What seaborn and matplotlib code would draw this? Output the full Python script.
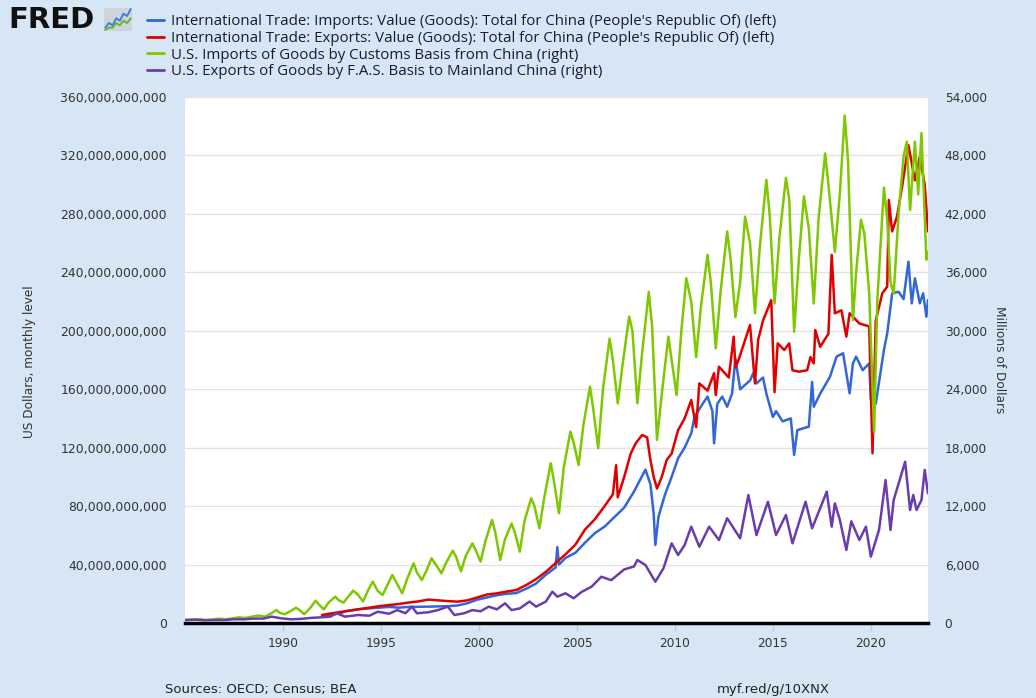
#FRED chart: comercio EUA-China (importacoes/exportacoes)
import numpy as np
import pandas as pd
import matplotlib
matplotlib.use("Agg")
import matplotlib.pyplot as plt
from matplotlib.lines import Line2D
from matplotlib.ticker import FuncFormatter
import seaborn as sns

#DADOS

#China imports total (bilhoes USD, eixo esquerdo)
blue_dates = [
    "1992-01", "1992-12", "1993-03", "1993-12", "1994-12", "1995-06", "1995-12",
    "1996-06", "1997-06", "1998-06", "1998-12", "1999-06", "1999-12",
    "2000-06", "2000-12", "2001-06", "2001-12", "2002-06", "2002-12",
    "2003-06", "2003-12", "2004-01", "2004-02", "2004-06", "2004-12",
    "2005-06", "2005-12", "2006-06", "2006-12", "2007-06", "2007-12",
    "2008-07", "2008-10", "2008-12", "2009-01", "2009-03", "2009-07", "2009-11",
    "2010-03", "2010-07", "2010-11", "2011-01", "2011-06", "2011-09", "2011-12",
    "2012-01", "2012-03", "2012-06", "2012-09", "2012-12",
    "2013-02", "2013-05", "2013-11", "2014-01", "2014-03", "2014-07", "2014-09",
    "2015-01", "2015-03", "2015-07", "2015-12", "2016-02", "2016-04", "2016-11",
    "2017-01", "2017-02", "2017-06", "2017-12", "2018-04", "2018-08", "2018-12",
    "2019-02", "2019-04", "2019-08", "2019-12", "2020-01", "2020-04", "2020-09", "2020-11",
    "2021-02", "2021-06", "2021-09", "2021-12",
    "2022-02", "2022-04", "2022-07", "2022-09", "2022-11", "2022-12",
]
blue_vals = [
    5.0, 6.5, 8.0, 9.5, 10.5, 11.0, 10.5,
    11.0, 11.2, 11.5, 12.0, 13.5, 16.0,
    17.5, 19.0, 20.0, 20.5, 23.5, 27.0,
    33.0, 38.0, 52.0, 40.0, 44.5, 48.0,
    55.0, 61.5, 66.0, 72.5, 79.0, 90.0,
    105.0, 95.0, 75.0, 53.4, 72.8, 88.0, 100.0,
    112.7, 120.0, 129.8, 141.0, 150.0, 155.0, 145.0,
    123.0, 150.0, 155.0, 148.0, 157.0,
    181.0, 160.0, 166.0, 171.0, 164.0, 168.0, 157.0,
    141.0, 145.0, 138.0, 140.0, 115.0, 132.0, 134.4,
    165.0, 148.0, 157.0, 168.6, 182.3, 184.6, 157.2,
    177.7, 182.3, 173.0, 177.7, 152.6, 150.0, 187.0, 198.3,
    225.6, 226.7, 221.6, 247.3,
    218.8, 235.9, 218.8, 225.6, 209.6, 221.0,
]

#China exports total (bilhoes USD, eixo esquerdo)
red_dates = [
    "1992-01", "1992-06", "1992-12", "1993-06", "1993-12", "1994-06", "1994-12",
    "1995-06", "1995-12", "1996-06", "1996-12", "1997-06", "1997-12",
    "1998-06", "1998-12", "1999-06", "1999-12", "2000-06", "2000-12",
    "2001-06", "2001-12", "2002-06", "2002-12", "2003-06", "2003-12",
    "2004-06", "2004-12", "2005-06", "2005-12", "2006-06", "2006-11",
    "2007-01", "2007-02", "2007-06", "2007-10",
    "2008-01", "2008-05", "2008-08", "2008-10", "2008-12",
    "2009-02", "2009-05", "2009-08", "2009-11",
    "2010-03", "2010-07", "2010-11", "2011-02", "2011-04", "2011-09",
    "2012-01", "2012-02", "2012-04", "2012-10",
    "2013-01", "2013-02", "2013-04", "2013-11",
    "2014-02", "2014-04", "2014-07", "2014-12",
    "2015-02", "2015-04", "2015-08", "2015-11",
    "2016-01", "2016-05", "2016-10", "2016-12",
    "2017-02", "2017-03", "2017-06", "2017-11",
    "2018-01", "2018-03", "2018-07", "2018-10", "2018-12",
    "2019-06", "2019-12", "2020-02", "2020-04", "2020-08", "2020-11", "2020-12",
    "2021-02", "2021-05", "2021-08", "2021-12",
    "2022-04", "2022-07", "2022-10", "2022-12",
]
red_vals = [
    5.5, 6.5, 7.5, 8.5, 9.5, 10.5, 11.5,
    12.3, 13.0, 14.0, 14.8, 16.0, 15.5,
    15.0, 14.6, 15.5, 17.5, 19.5, 20.3,
    21.5, 22.6, 26.0, 30.0, 35.0, 41.0,
    47.0, 53.5, 64.0, 71.0, 80.0, 88.0,
    108.0, 86.0, 100.0, 116.0,
    123.0, 128.7, 127.0, 111.6, 100.0,
    92.0, 100.0, 111.6, 116.0,
    132.0, 140.0, 152.6, 134.0, 164.0, 159.0,
    171.0, 156.0, 175.4, 168.0,
    196.0, 175.0, 180.0, 204.0,
    164.0, 193.7, 207.0, 221.0,
    158.0, 191.4, 186.8, 191.4,
    173.0, 172.0, 173.0, 182.0,
    177.7, 200.5, 189.0, 198.0,
    251.9, 212.0, 214.0, 196.0, 212.0,
    205.0, 203.0, 116.1, 207.0, 225.6, 230.2, 289.5,
    268.0, 278.0, 297.7, 327.0,
    303.0, 319.0, 300.0, 268.0,
]

#US imports from China (milhoes USD, eixo direito)
green_dates = [
    "1985-01", "1985-06", "1985-10", "1986-02", "1986-06", "1986-10",
    "1987-02", "1987-06", "1987-10", "1988-02", "1988-06", "1988-10",
    "1989-02", "1989-06", "1989-09", "1989-11", "1990-02", "1990-06", "1990-09", "1990-11",
    "1991-02", "1991-06", "1991-09", "1991-11", "1992-02", "1992-05", "1992-09", "1992-11",
    "1993-02", "1993-05", "1993-08", "1993-11", "1994-02", "1994-05", "1994-08", "1994-11",
    "1995-02", "1995-05", "1995-08", "1995-11", "1996-02", "1996-05", "1996-09", "1996-11",
    "1997-02", "1997-05", "1997-08", "1997-11", "1998-02", "1998-05", "1998-09", "1998-11",
    "1999-02", "1999-05", "1999-09", "1999-11", "2000-02", "2000-05", "2000-09", "2000-11",
    "2001-02", "2001-05", "2001-09", "2001-11", "2002-02", "2002-05", "2002-09", "2002-11",
    "2003-02", "2003-05", "2003-09", "2003-11", "2004-02", "2004-05", "2004-09", "2004-11",
    "2005-02", "2005-05", "2005-09", "2005-11", "2006-02", "2006-05", "2006-09", "2006-11",
    "2007-02", "2007-05", "2007-09", "2007-11", "2008-02", "2008-05", "2008-09", "2008-11",
    "2009-02", "2009-05", "2009-09", "2009-11", "2010-02", "2010-05", "2010-08", "2010-11",
    "2011-02", "2011-05", "2011-09", "2011-11", "2012-02", "2012-05", "2012-09", "2012-11",
    "2013-02", "2013-05", "2013-08", "2013-11", "2014-02", "2014-05", "2014-09", "2014-11",
    "2015-02", "2015-05", "2015-09", "2015-11", "2016-02", "2016-05", "2016-08", "2016-11",
    "2017-02", "2017-05", "2017-09", "2017-11", "2018-03", "2018-06", "2018-09", "2018-11",
    "2019-02", "2019-04", "2019-07", "2019-09", "2019-12",
    "2020-03", "2020-05", "2020-09", "2020-11",
    "2021-01", "2021-03", "2021-06", "2021-09", "2021-11",
    "2022-01", "2022-04", "2022-06", "2022-08", "2022-11", "2022-12",
]
green_vals = [
    300, 330, 380, 300, 380, 450,
    380, 480, 580, 520, 650, 760,
    650, 1000, 1330, 1050, 900, 1250, 1570, 1350,
    900, 1600, 2290, 1900, 1400, 2100, 2700, 2350,
    2090, 2700, 3320, 2900, 2200, 3300, 4240, 3300,
    2870, 3900, 4930, 4000, 3050, 4500, 6130, 5200,
    4410, 5400, 6640, 5900, 5100, 6200, 7420, 6800,
    5300, 6900, 8180, 7500, 6300, 8400, 10570, 9300,
    6470, 8600, 10200, 9300, 7320, 10500, 12800, 12000,
    9720, 12800, 16400, 14500, 11260, 16000, 19640, 18500,
    16220, 20300, 24260, 22000, 17940, 24000, 29200, 27000,
    22550, 26500, 31450, 30000, 22550, 27800, 34000, 30500,
    18800, 23500, 29400, 27000, 23400, 30000, 35400, 33000,
    27300, 32500, 37800, 35000, 28200, 34000, 40200, 37500,
    31400, 35000, 41700, 39000, 31800, 38500, 45500, 42000,
    32800, 39500, 45700, 43500, 29900, 37500, 43800, 40500,
    32800, 41500, 48200, 45000, 38100, 44000, 52100, 47500,
    31100, 36000, 41400, 40000, 33900,
    19600, 33200, 44700, 41400,
    35000, 33800, 42000, 47900, 49400,
    42400, 49400, 44000, 50300, 37300, 38100,
]

#US exports to China (milhoes USD, eixo direito)
purple_dates = [
    "1985-01", "1985-07", "1986-01", "1986-07", "1987-01", "1987-07", "1988-01", "1988-07",
    "1989-01", "1989-06", "1989-12", "1990-06", "1990-12", "1991-06", "1991-12",
    "1992-06", "1992-10", "1993-03", "1993-11", "1994-06", "1994-11", "1995-06", "1995-11",
    "1996-04", "1996-08", "1996-11", "1997-06", "1997-12", "1998-06", "1998-10",
    "1999-04", "1999-09", "2000-02", "2000-07", "2000-12", "2001-05", "2001-09",
    "2002-02", "2002-08", "2002-12", "2003-06", "2003-10", "2004-01", "2004-06", "2004-11",
    "2005-04", "2005-10", "2006-04", "2006-10", "2007-06", "2007-12", "2008-02", "2008-07",
    "2009-01", "2009-06", "2009-11", "2010-03", "2010-07", "2010-11", "2011-04", "2011-10",
    "2012-04", "2012-09", "2013-05", "2013-10", "2014-03", "2014-10", "2015-03", "2015-09",
    "2016-01", "2016-09", "2017-01", "2017-10", "2018-01", "2018-03", "2018-06", "2018-10",
    "2019-01", "2019-06", "2019-10", "2020-01", "2020-06", "2020-10", "2021-01", "2021-03",
    "2021-10", "2022-01", "2022-03", "2022-05", "2022-08", "2022-10", "2022-12",
]
purple_vals = [
    310, 350, 280, 300, 300, 380, 380, 450,
    450, 650, 480, 380, 420, 520, 580,
    650, 1000, 650, 820, 750, 1160, 950, 1330,
    1000, 1680, 1000, 1100, 1330, 1680, 820,
    1000, 1330, 1200, 1680, 1400, 2020, 1330,
    1500, 2200, 1680, 2200, 3220, 2700, 3050, 2540,
    3200, 3730, 4750, 4400, 5500, 5800, 6470, 5950,
    4240, 5610, 8180, 6980, 8000, 9890, 7830, 9890,
    8520, 10750, 8700, 13140, 9030, 12450, 9030, 11090,
    8180, 12450, 9720, 13480, 9890, 12280, 10610, 7490,
    10440, 8520, 9890, 6810, 9550, 14680, 9550, 12620,
    16560, 11600, 13140, 11600, 12620, 15710, 13310,
]

series_labels = [
    "International Trade: Imports: Value (Goods): Total for China (People's Republic Of) (left)",
    "International Trade: Exports: Value (Goods): Total for China (People's Republic Of) (left)",
    "U.S. Imports of Goods by Customs Basis from China (right)",
    "U.S. Exports of Goods by F.A.S. Basis to Mainland China (right)",
]
series_colors = ["#3366d6", "#e00000", "#7fc700", "#6a3dad"]

#mini icone do logo FRED
logo_blue = [1, 3, 2, 5, 4, 7, 6, 9]
logo_green = [0, 1, 1, 3, 2, 4, 3, 5]

#CONFIGURACOES VISUAIS
sns.set_theme(style="white")
plt.rcParams["font.family"] = ["DejaVu Sans"]

BG = "#d6e6f5"
TXT = "#333333"

fig = plt.figure(figsize=(10.36, 6.98), dpi=100, facecolor=BG)
ax = fig.add_axes([185 / 1036, 1 - 623 / 698, (928 - 185) / 1036, (623 - 97) / 698])
ax.set_facecolor("white")
ax2 = ax.twinx()

#linhas do eixo esquerdo
sns.lineplot(x=pd.to_datetime(blue_dates), y=np.array(blue_vals) * 1e9,
             ax=ax, color=series_colors[0], lw=1.8)
sns.lineplot(x=pd.to_datetime(red_dates), y=np.array(red_vals) * 1e9,
             ax=ax, color=series_colors[1], lw=1.8)

#linhas do eixo direito
sns.lineplot(x=pd.to_datetime(green_dates), y=green_vals,
             ax=ax2, color=series_colors[2], lw=1.8)
sns.lineplot(x=pd.to_datetime(purple_dates), y=purple_vals,
             ax=ax2, color=series_colors[3], lw=1.8)

#eixos
ax.set_xlim(pd.Timestamp("1985-01-01"), pd.Timestamp("2022-12-01"))
ax.set_ylim(0, 360e9)
ax.set_yticks(np.arange(0, 360e9 + 1, 40e9))
ax.yaxis.set_major_formatter(FuncFormatter(lambda v, p: f"{v:,.0f}"))
ax2.set_ylim(0, 54000)
ax2.set_yticks(np.arange(0, 54001, 6000))
ax2.yaxis.set_major_formatter(FuncFormatter(lambda v, p: f"{v:,.0f}"))

anos = list(range(1990, 2021, 5))
ax.set_xticks([pd.Timestamp(f"{a}-01-01") for a in anos])
ax.set_xticklabels([str(a) for a in anos])

ax.yaxis.grid(True, color="#e3e3e3", lw=1)
ax.xaxis.grid(False)
for a in (ax, ax2):
    for s in a.spines.values():
        s.set_visible(False)
    a.set_xlabel("")
    a.set_ylabel("")
ax.spines["bottom"].set_visible(True)
ax.spines["bottom"].set_color("black")
ax.spines["bottom"].set_linewidth(2.5)

ax.tick_params(axis="x", direction="out", length=6, width=1, color="#b7cbe6",
               labelsize=8.7, labelcolor=TXT, pad=4, bottom=True)
ax.tick_params(axis="y", length=0, pad=13, labelsize=8.9, labelcolor=TXT)
ax2.tick_params(axis="y", length=0, pad=12, labelsize=8.7, labelcolor=TXT)

#titulos dos eixos
fig.text(30 / 1036, 1 - 362 / 698, "US Dollars, monthly level", rotation=90,
         ha="center", va="center", fontsize=8.7, color=TXT)
fig.text(1000 / 1036, 1 - 360 / 698, "Millions of Dollars", rotation=270,
         ha="center", va="center", fontsize=8.7, color=TXT)

#legenda
handles = [Line2D([], [], color=c, lw=2) for c in series_colors]
fig.legend(handles, series_labels, loc="upper left",
           bbox_to_anchor=(147 / 1036, 1 - 14 / 698), frameon=False,
           handlelength=1.15, handletextpad=0.45, labelspacing=0.12,
           prop={"family": "Open Sans", "size": 10.8}, labelcolor="#1a1a2e",
           borderaxespad=0, borderpad=0)

#logo FRED
fig.text(8 / 1036, 1 - 20 / 698, "FRED", fontsize=21, fontweight="heavy",
         color="#111111", va="center", ha="left")
icon = fig.add_axes([104 / 1036, 1 - 31 / 698, 28 / 1036, 23 / 698])
icon.set_facecolor("#cfd4da")
icon.plot(logo_blue, color="#3f7fd6", lw=1.4)
icon.plot(logo_green, color="#5fb82a", lw=1.4)
icon.set_xticks([])
icon.set_yticks([])
for s in icon.spines.values():
    s.set_visible(False)

#rodape
fig.text(165 / 1036, 1 - 690 / 698, "Sources: OECD; Census; BEA", fontsize=9.5,
         color="#222222", va="center", ha="left")
fig.text(717 / 1036, 1 - 690 / 698, "myf.red/g/10XNX", fontsize=9.5,
         color="#222222", va="center", ha="left")

plt.savefig("out.png", dpi=100, facecolor=BG)
